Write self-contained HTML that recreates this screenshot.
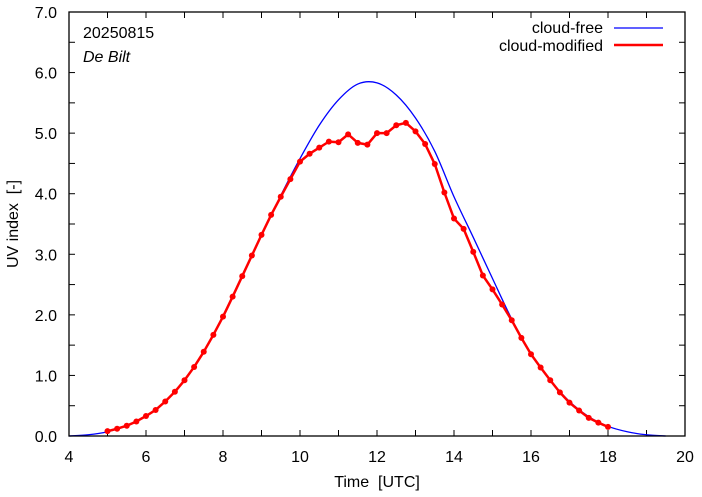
<!DOCTYPE html>
<html><head><meta charset="utf-8"><style>
body{margin:0;background:#fff}
svg{display:block;font-family:"Liberation Sans",sans-serif}
text{white-space:pre}
</style></head><body>
<svg id="chart" width="702" height="497" viewBox="0 0 702 497">
<rect width="702" height="497" fill="#fff"/>
<g id="ticks"></g>
<g id="series"></g>
<rect x="69" y="12" width="616" height="424" fill="none" stroke="#000" stroke-width="1.3"/>
<text x="83" y="38" font-size="16">20250815</text>
<text x="83" y="62" font-size="16" font-style="italic">De Bilt</text>
<text x="603" y="33" font-size="16" text-anchor="end">cloud-free</text>
<line x1="614" y1="28" x2="663" y2="28" stroke="#0000ff" stroke-width="1.3"/>
<text x="603" y="51" font-size="16" text-anchor="end">cloud-modified</text>
<line x1="614" y1="45" x2="663" y2="45" stroke="#ff0000" stroke-width="2.5"/>
<text x="377" y="487" font-size="16" text-anchor="middle" xml:space="preserve">Time  [UTC]</text>
<text transform="translate(18,224) rotate(-90)" font-size="16" text-anchor="middle" xml:space="preserve">UV index  [-]</text>
</svg>
<script>
const xTicks=[4,6,8,10,12,14,16,18,20];
const yTicks=[0,1,2,3,4,5,6,7];
const clearX=[4,4.5,5,5.5,6,6.5,7,7.5,8,8.5,9,9.5,10,10.5,11,11.5,12,12.5,13,13.5,14,14.5,15,15.5,16,16.5,17,17.5,18,18.5,19,19.5];
const clearY=[0,0.02,0.07,0.17,0.33,0.57,0.92,1.39,1.97,2.64,3.32,3.97,4.58,5.13,5.55,5.81,5.83,5.63,5.25,4.7,3.95,3.28,2.6,1.93,1.35,0.92,0.57,0.32,0.16,0.07,0.02,0];
const cloudX=[5,5.25,5.5,5.75,6,6.25,6.5,6.75,7,7.25,7.5,7.75,8,8.25,8.5,8.75,9,9.25,9.5,9.75,10,10.25,10.5,10.75,11,11.25,11.5,11.75,12,12.25,12.5,12.75,13,13.25,13.5,13.75,14,14.25,14.5,14.75,15,15.25,15.5,15.75,16,16.25,16.5,16.75,17,17.25,17.5,17.75,18];
const cloudY=[0.08,0.12,0.17,0.24,0.33,0.43,0.57,0.73,0.92,1.14,1.39,1.67,1.97,2.30,2.64,2.98,3.32,3.65,3.95,4.24,4.53,4.66,4.76,4.86,4.85,4.98,4.84,4.81,5.00,5.00,5.13,5.17,5.03,4.82,4.49,4.02,3.59,3.42,3.04,2.65,2.42,2.17,1.91,1.62,1.35,1.13,0.92,0.72,0.55,0.42,0.30,0.22,0.15];
const X0=69,X1=685,Y0=436,Y1=12;
const sx=v=>X0+(v-4)/16*(X1-X0);
const sy=v=>Y0-v/7*(Y0-Y1);
const NS="http://www.w3.org/2000/svg";
const tg=document.getElementById('ticks'),sg=document.getElementById('series');
function mk(t,a,p){const e=document.createElementNS(NS,t);for(const k in a)e.setAttribute(k,a[k]);p.appendChild(e);return e;}
for(let h=4;h<=20;h++){const x=sx(h);
 const l=mk('line',{x1:x,y1:Y0,x2:x,y2:Y0-6,stroke:'#000'},tg);
 
 
 const l2=mk('line',{x1:x,y1:Y1,x2:x,y2:Y1+6,stroke:'#000'},tg);
 
 }
xTicks.forEach(v=>{const t=mk('text',{x:sx(v),y:462,'font-size':16,'text-anchor':'middle'},tg);t.textContent=v;
 
 });
for(let k=0;k<=14;k++){const y=sy(k/2);
 const l=mk('line',{x1:X0,y1:y,x2:X0+6,y2:y,stroke:'#000'},tg);
 
 
 const l2=mk('line',{x1:X1,y1:y,x2:X1-6,y2:y,stroke:'#000'},tg);
 
 }
yTicks.forEach(v=>{const t=mk('text',{x:57,y:sy(v)+6,'font-size':16,'text-anchor':'end'},tg);t.textContent=v.toFixed(1);
 
 });
function smooth(xs,ys){const p=xs.map((x,i)=>[sx(x),sy(ys[i])]);let d='M'+p[0].join(',');
 for(let i=0;i<p.length-1;i++){const a=p[Math.max(i-1,0)],b=p[i],c=p[i+1],e=p[Math.min(i+2,p.length-1)];
  const c1=[b[0]+(c[0]-a[0])/6,b[1]+(c[1]-a[1])/6],c2=[c[0]-(e[0]-b[0])/6,c[1]-(e[1]-b[1])/6];
  d+=' C'+c1.join(',')+' '+c2.join(',')+' '+c.join(',');}
 return d;}
const cl=mk('path',{d:smooth(clearX,clearY),fill:'none',stroke:'#0000ff','stroke-width':1.3},sg);


const cm=mk('polyline',{points:cloudX.map((x,i)=>sx(x)+','+sy(cloudY[i])).join(' '),fill:'none',stroke:'#ff0000','stroke-width':2.5,'stroke-linejoin':'round'},sg);


cloudX.forEach((x,i)=>{const c=mk('circle',{cx:sx(x),cy:sy(cloudY[i]),r:3,fill:'#ff0000'},sg);
 
 });
</script>
</body></html>
